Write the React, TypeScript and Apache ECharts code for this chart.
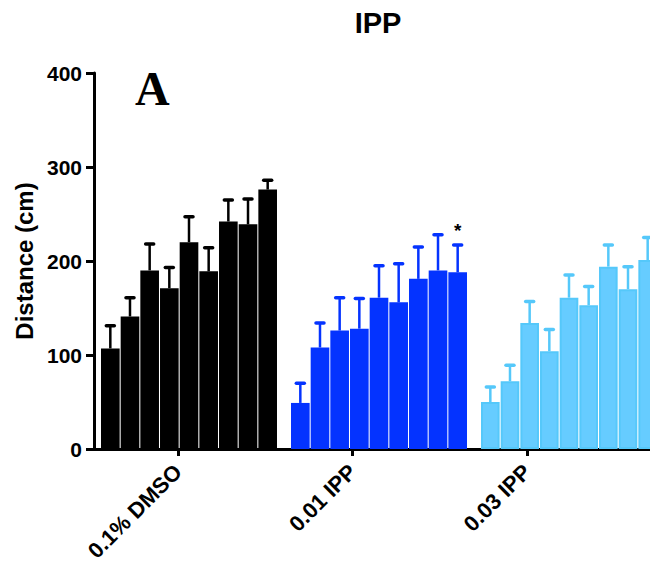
import React, { useEffect, useRef } from "react";
import * as echarts from "echarts";

// Treatment groups along the x axis
const groups = ["0.1% DMSO", "0.01 IPP", "0.03 IPP"];
const groupFill = ["#000000", "#0433ff", "#66ccff"];
const groupEdge = ["#000000", "#0433ff", "#55c8fa"];

// Mean distance (cm) for each of the 9 time bins, and mean + SEM
const dmsoMean = [107, 141, 190, 171, 220, 189, 242, 239, 276];
const dmsoUpper = [131, 161, 218, 193, 247, 214, 265, 266, 286];
const ipp001Mean = [49, 108, 126, 128, 161, 156, 181, 190, 188];
const ipp001Upper = [70, 134, 161, 160, 195, 197, 215, 228, 217];
const ipp003Mean = [50, 72, 134, 104, 161, 153, 194, 170, 201];
const ipp003Upper = [66, 89, 157, 127, 185, 173, 217, 194, 225];

// Significance marks per bin
const dmsoMarks = ["", "", "", "", "", "", "", "", ""];
const ipp001Marks = ["", "", "", "", "", "", "", "", "*"];
const ipp003Marks = ["", "", "", "", "", "", "", "", ""];

const yTicks = [0, 100, 200, 300, 400];

const means = [dmsoMean, ipp001Mean, ipp003Mean];
const uppers = [dmsoUpper, ipp001Upper, ipp003Upper];
const marks = [dmsoMarks, ipp001Marks, ipp003Marks];

const BIN_COUNT = 9;
const CAT_GAP = 0.0737;
const BAR_GAP = 0.055;

const FONT = "'Liberation Sans', Arial, Helvetica, sans-serif";

// The drawing surface is a bit wider than the visible frame; the last group runs off the edge.
const VIEW_W = 650;
const VIEW_H = 565;
const CANVAS_W = 664;

export default function App() {
  const ref = useRef<HTMLDivElement>(null);

  useEffect(() => {
    document.body.style.margin = "0";
    if (!ref.current) return;
    const chart = echarts.init(ref.current, undefined, { renderer: "svg" });

    const barSeries = Array.from({ length: BIN_COUNT }, (_, b) => ({
      type: "bar",
      xAxisIndex: 0,
      yAxisIndex: 0,
      barGap: `${BAR_GAP * 100}%`,
      barCategoryGap: `${CAT_GAP * 100}%`,
      data: groups.map((_, g) => ({
        value: means[g][b],
        itemStyle: {
          color: groupFill[g],
          borderColor: groupEdge[g],
          borderWidth: g === 2 ? 2 : 0,
        },
      })),
    }));

    const errorRows: { g: number; b: number; mean: number; up: number; mark: string }[] = [];
    groups.forEach((_, g) => {
      for (let b = 0; b < BIN_COUNT; b++) {
        errorRows.push({ g, b, mean: means[g][b], up: uppers[g][b], mark: marks[g][b] });
      }
    });

    const errorSeries = {
      type: "custom",
      xAxisIndex: 0,
      yAxisIndex: 0,
      z: 3,
      data: errorRows.map((r) => [r.g, r.up]),
      encode: { x: 0, y: 1 },
      renderItem: (params: any, api: any) => {
        const r = errorRows[params.dataIndex];
        const band = api.size([1, 0])[0];
        const groupW = band * (1 - CAT_GAP);
        const w = groupW / (BIN_COUNT + (BIN_COUNT - 1) * BAR_GAP);
        const gap = w * BAR_GAP;
        const center = api.coord([r.g, 0])[0];
        const x = center - groupW / 2 + r.b * (w + gap) + w / 2;
        const yTop = api.coord([r.g, r.up])[1];
        const yMean = api.coord([r.g, r.mean])[1];
        const color = groupEdge[r.g];
        const children: any[] = [
          {
            type: "line",
            shape: { x1: x, y1: yMean, x2: x, y2: yTop },
            style: { stroke: color, lineWidth: 2.5 },
          },
          {
            type: "line",
            shape: { x1: x - 4, y1: yTop, x2: x + 4, y2: yTop },
            style: { stroke: color, lineWidth: 3.5, lineCap: "round" },
          },
        ];
        if (r.mark) {
          children.push({
            type: "text",
            style: {
              text: r.mark,
              x,
              y: yTop - 5,
              align: "center",
              verticalAlign: "bottom",
              fill: "#000",
              font: `bold 19px ${FONT}`,
            },
          });
        }
        return { type: "group", children };
      },
    };

    // tick label positions sit at a fixed spacing from the grid's left edge
    const gridLeft = 94;
    const gridRight = 0;
    const plotW = CANVAS_W - gridLeft - gridRight;
    const tickStart = 84;
    const tickStep = 174.5;

    chart.setOption({
      animation: false,
      backgroundColor: "#ffffff",
      grid: { left: gridLeft, right: gridRight, top: 73, bottom: 116, containLabel: false },
      xAxis: [
        {
          type: "category",
          data: groups,
          position: "bottom",
          axisLine: { lineStyle: { color: "#000", width: 3 } },
          axisTick: { show: false },
          axisLabel: { show: false },
          splitLine: { show: false },
        },
        {
          type: "value",
          position: "bottom",
          min: -tickStart / tickStep,
          max: (plotW - tickStart) / tickStep,
          axisLine: { show: false, onZero: false },
          splitLine: { show: false },
          axisTick: {
            show: true,
            customValues: [0, 1, 2],
            length: 7,
            lineStyle: { color: "#000", width: 3 },
          },
          axisLabel: {
            show: true,
            customValues: [0, 1, 2],
            rotate: 45,
            margin: 19,
            formatter: (v: number) => groups[Math.round(v)] ?? "",
            fontFamily: FONT,
            fontWeight: "bold",
            fontSize: 22,
            color: "#000",
          },
        },
      ],
      yAxis: {
        type: "value",
        min: yTicks[0],
        max: yTicks[yTicks.length - 1],
        interval: yTicks[1] - yTicks[0],
        name: "Distance (cm)",
        nameLocation: "middle",
        nameRotate: 90,
        nameGap: 58,
        nameTextStyle: { fontFamily: FONT, fontWeight: "bold", fontSize: 24, color: "#000" },
        axisLine: { show: true, onZero: false, lineStyle: { color: "#000", width: 3 } },
        axisTick: { show: true, length: 8, lineStyle: { color: "#000", width: 3 } },
        splitLine: { show: false },
        axisLabel: {
          margin: 12,
          fontFamily: FONT,
          fontWeight: "bold",
          fontSize: 21,
          color: "#000",
        },
      },
      graphic: [
        {
          type: "text",
          x: 378,
          y: 8,
          style: {
            text: "IPP",
            align: "center",
            verticalAlign: "top",
            fill: "#000",
            font: `bold 29px ${FONT}`,
          },
        },
        {
          type: "text",
          left: 135,
          top: 64,
          style: {
            text: "A",
            fill: "#000",
            font: "bold 48px 'Liberation Serif', 'Times New Roman', serif",
          },
        },
      ],
      series: [...barSeries, errorSeries],
    });

    return () => chart.dispose();
  }, []);

  return (
    <div style={{ width: VIEW_W, height: VIEW_H, overflow: "hidden" }}>
      <div ref={ref} style={{ width: CANVAS_W, height: VIEW_H }} />
    </div>
  );
}
